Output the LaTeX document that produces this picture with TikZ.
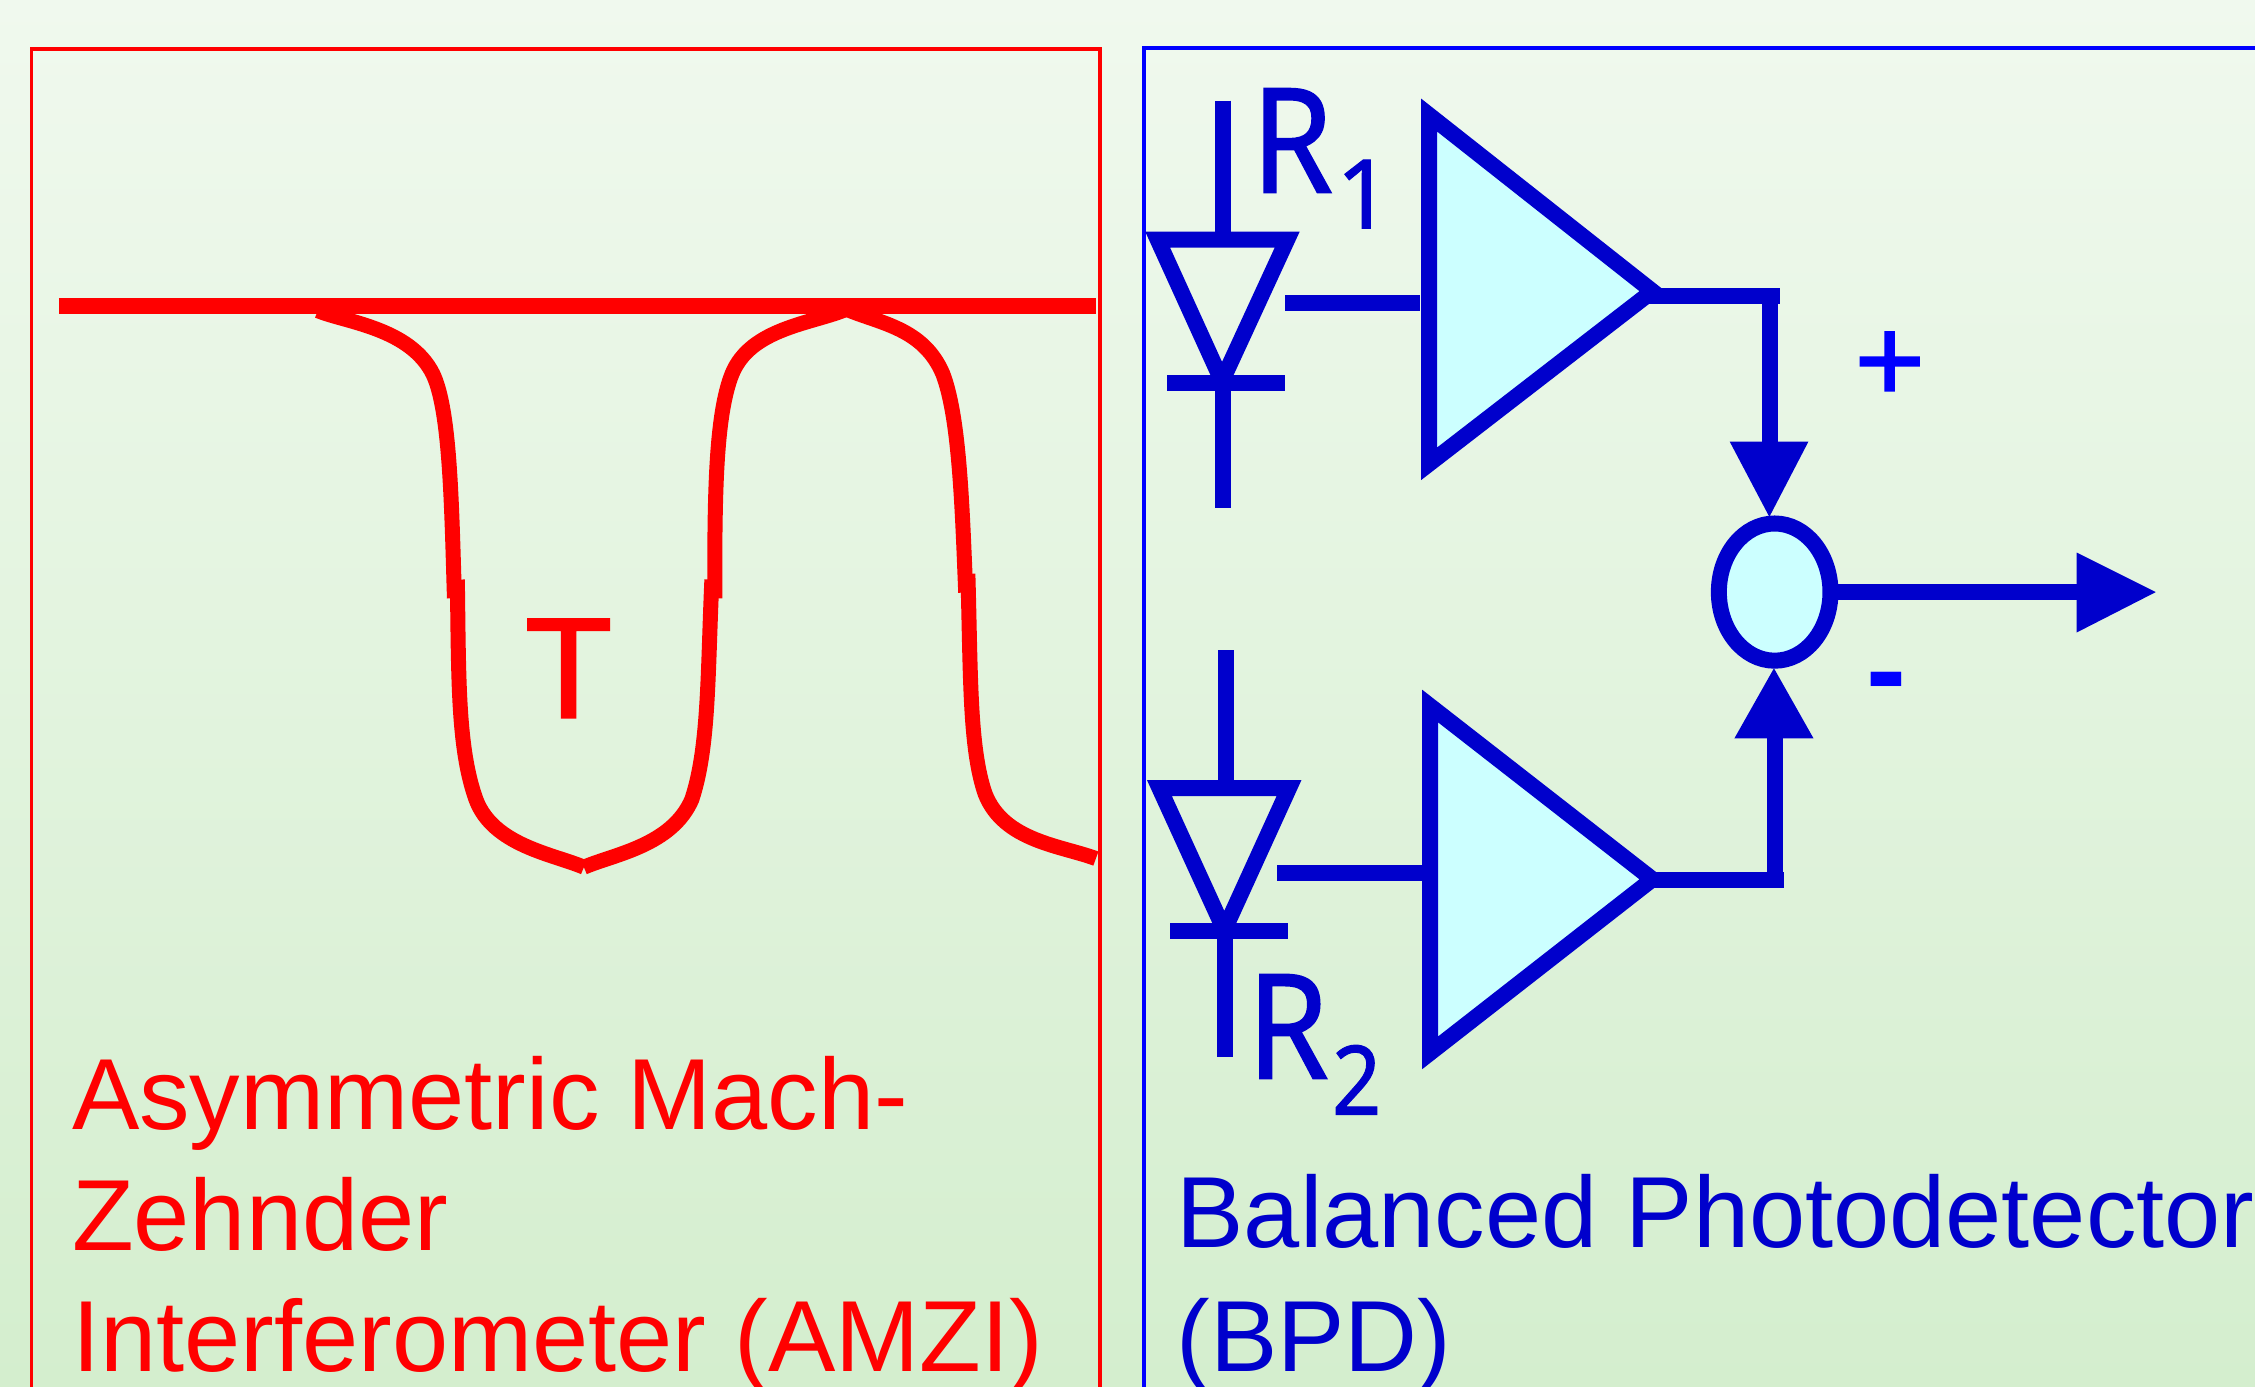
\documentclass[tikz,border=0pt]{standalone}
\usepackage{fontspec}
\usetikzlibrary{shapes.geometric}
\setmainfont{Liberation Sans}
\newfontfamily\boldish[FakeBold=1.5]{Liberation Sans}
\newfontfamily\rfont[FakeBold=1]{Noto Sans}
\definecolor{amzi}{RGB}{255,0,0}
\definecolor{bpd}{RGB}{0,0,204}
\definecolor{purebl}{RGB}{0,0,255}
\definecolor{fillc}{RGB}{204,255,255}
\definecolor{bgtop}{RGB}{240,249,238}
\definecolor{bgbot}{RGB}{212,238,206}
\tikzset{
  redline/.style={draw=amzi,line width=15.8pt},
  curve/.style={draw=amzi,line width=15pt},
  blueline/.style={draw=bpd,line width=16pt},
  amp/.style={draw=bpd,line width=16pt,fill=fillc,miter limit=10},
  diode/.style={draw=bpd,line width=16pt,miter limit=10},
  redframe/.style={draw=amzi,line width=3.6pt},
  blueframe/.style={draw=purebl,line width=4.3pt},
  tip/.style={fill=bpd,draw=none},
  redtext/.style={text=amzi,anchor=base west,inner sep=0pt,font=\fontsize{101}{101}\selectfont},
  bluetext/.style={text=bpd,anchor=base west,inner sep=0pt,font=\fontsize{101}{101}\selectfont},
  rlabel/.style={text=bpd,anchor=base west,inner sep=0pt,font=\rfont\fontsize{146}{146}\selectfont},
  rsub/.style={text=bpd,anchor=base west,inner sep=0pt,font=\rfont\fontsize{96}{96}\selectfont},
  sign/.style={text=purebl,anchor=center,inner sep=0pt,font=\boldish\fontsize{120}{120}\selectfont},
  minussign/.style={text=purebl,anchor=center,inner sep=0pt,font=\bfseries\fontsize{120}{120}\selectfont},
  sumnode/.style={ellipse,draw=bpd,line width=16pt,fill=fillc,minimum width=111.6pt,minimum height=137.2pt,inner sep=0pt},
}
\begin{document}
\begin{tikzpicture}[x=1.4381pt,y=-1.4381pt]
\useasboundingbox (0,0) rectangle (1568,964.4);
\shade[top color=bgtop,bottom color=bgbot] (0,0) rectangle (1568,964.4);
\draw[redframe] (22,964.4) -- (22,34) -- (765,34) -- (765,964.4);
\draw[blueframe] (795.5,964.4) -- (795.5,33.3) -- (1568,33.3);
% AMZI
\coordinate (la) at (41,212.6); \coordinate (lb) at (762,212.6);
\draw[redline] (la) -- (lb);
\draw[curve] (221,216) .. controls (240,224) and (285,228) .. (301,260)
   .. controls (313,285) and (314,350) .. (316,416);
\draw[curve] (318,403) .. controls (319,470) and (318,520) .. (331,556)
   .. controls (343,588) and (385,594) .. (406,603);
\draw[curve] (406,603) .. controls (427,594) and (467,588) .. (481,556)
   .. controls (493,520) and (492,470) .. (495,403);
\draw[curve] (497,416) .. controls (497,350) and (497,290) .. (509,260)
   .. controls (522,228) and (565,225) .. (588.6,215);
\draw[curve] (588.6,215) .. controls (612,225) and (642,228) .. (655.6,260)
   .. controls (667,290) and (669,350) .. (671.5,412);
\draw[curve] (673,399) .. controls (675,470) and (674,520) .. (685,552)
   .. controls (698,585) and (738,588) .. (762,597);
\node[text=amzi,anchor=base,inner sep=0pt,font=\boldish\fontsize{143}{143}\selectfont] (T) at (395.4,499) {T};
\node[redtext] (a1) at (50,785.5) {Asymmetric Mach-};
\node[redtext] (a2) at (50,869.5) {Zehnder};
\node[redtext] (a3) at (50,953.5) {Interferometer (AMZI)};
% top detector
\coordinate (d1t) at (850.5,70); \coordinate (d1b) at (850.5,353);
\coordinate (d1k) at (850.5,166); \coordinate (d1a) at (850.5,266);
\draw[blueline] (d1t) -- (d1k);
\draw[blueline] (d1a) -- (d1b);
\draw[diode] (805,166.7) -- (895,166.7) -- (849.7,265) -- cycle;
\draw[blueline] (811.5,266) -- (893.6,266);
\coordinate (o1s) at (893.6,210.4); \coordinate (o1e) at (987.2,210.4);
\draw[blueline] (o1s) -- (o1e);
\draw[amp] (993.7,80) -- (1149,202.5) -- (993.7,322.5) -- cycle;
\draw[blueline] (1146,205.7) -- (1238,205.7);
\node[rlabel] (r1) at (870,134) {\scalebox{.9}[1]{R}};
\node[rsub] (r1s) at (929,158.8) {1};
% bottom detector
\coordinate (d2t) at (852.2,452); \coordinate (d2k) at (852.2,548);
\coordinate (d2a) at (851.5,648); \coordinate (d2b) at (851.5,735.2);
\draw[blueline] (d2t) -- (d2k);
\draw[blueline] (d2a) -- (d2b);
\draw[diode] (806.2,548) -- (896.3,548) -- (851.3,646.7) -- cycle;
\draw[blueline] (813.7,647.5) -- (895.4,647.5);
\coordinate (o2s) at (888.2,606.7); \coordinate (o2e) at (990,606.7);
\draw[blueline] (o2s) -- (o2e);
\draw[amp] (994.5,491) -- (1149,611.4) -- (994.5,732) -- cycle;
\draw[blueline] (1146,612) -- (1240.3,612);
\node[rlabel] (r2) at (867,750) {\scalebox{.9}[1]{R}};
\node[rsub] (r2s) at (926,775) {\scalebox{.9}[1]{2}};
% summing
\node[sumnode] (sum) at (1234,411.7) {};
\coordinate (a1b) at (1230.5,307);
\coordinate (a2b) at (1233.9,513.4);
\draw[blueline] (1230.5,205.7) -- (a1b);
\draw[blueline] (1233.9,612) -- (a2b);
\fill[tip] (1202.7,307) -- (1257.5,307) -- (1230.3,359.4) -- cycle;
\fill[tip] (1206,513.4) -- (1261,513.4) -- (1233.5,464.7) -- cycle;
\coordinate (outb) at (1444,411.7);
\draw[blueline] (sum.east) -- (outb);
\fill[tip] (1444,384.2) -- (1499,411.7) -- (1444,439.8) -- cycle;
\node[sign] (plus) at (1314,255) {+};
\node[minussign] (minus) at (1312,480.5) {-};
\node[bluetext] (b1) at (818,867.5) {Balanced Photodetector};
\node[bluetext] (b2) at (818,953.5) {(BPD)};
\end{tikzpicture}
\end{document}
